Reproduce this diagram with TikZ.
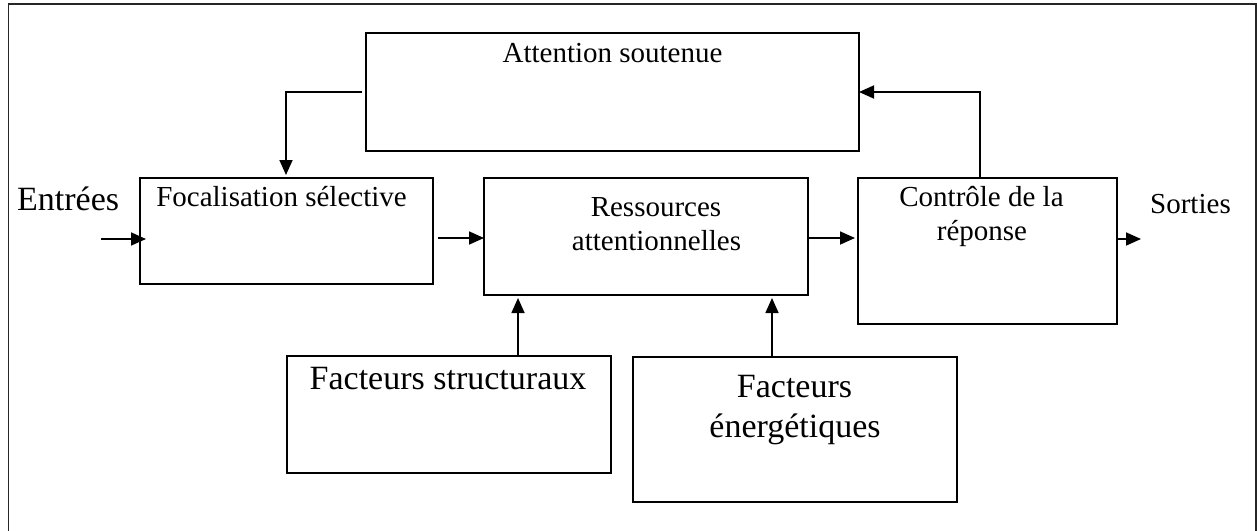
\documentclass[tikz,border=0pt]{standalone}
\usepackage{fontspec}
\setmainfont{Liberation Serif}
\usetikzlibrary{arrows.meta}
\begin{document}
\begin{tikzpicture}[x=1pt,y=-1pt,
  box/.style={draw, line width=1.7pt, inner sep=0pt, outer sep=0pt, anchor=north west},
  txt/.style={inner sep=0pt, anchor=base, font=\fontsize{29}{34}\selectfont},
  big/.style={inner sep=0pt, anchor=base, font=\fontsize{34}{40}\selectfont},
  arr/.style={line width=1.7pt, -{Triangle[length=15pt,width=13pt]}},
  frame/.style={line width=1.6pt, black!85}]
\useasboundingbox (0,0) rectangle (1257,530);

% outer frame
\draw[frame] (8.5,531) -- (8.5,4) -- (1256,4) -- (1256,531);

% blocks
\node[box, minimum width=493pt, minimum height=118pt] (att) at (366,33) {};
\node[box, minimum width=293pt, minimum height=106pt] (foc) at (140,178) {};
\node[box, minimum width=324pt, minimum height=117pt] (res) at (484,178) {};
\node[box, minimum width=259pt, minimum height=146pt] (con) at (858,178) {};
\node[box, minimum width=324pt, minimum height=117pt] (fst) at (287,356) {};
\node[box, minimum width=324pt, minimum height=145pt] (fen) at (633,357) {};

% block titles
\node[txt] (attT) at (612.5,62) {Attention soutenue};
\node[txt] (focT) at (281.5,206) {Focalisation sélective};
\node[txt] (resT1) at (656,216) {Ressources};
\node[txt] (resT2) at (656.5,250) {attentionnelles};
\node[txt] (conT1) at (981.5,206) {Contrôle de la};
\node[txt] (conT2) at (982,240) {réponse};
\node[big] (fstT) at (448,389) {Facteurs structuraux};
\node[big] (fenT1) at (794.5,397) {Facteurs};
\node[big] (fenT2) at (795,437) {énergétiques};

% inputs and outputs
\node[big, anchor=base west] (inT) at (17,210) {Entrées};
\node[txt, anchor=base west] (outT) at (1150,213) {Sorties};
\coordinate (in) at (101,239);
\coordinate (out) at (1141,239);

% helper coordinates for connector rows and columns
\coordinate (row) at (0,238);
\coordinate (colL) at (286,0);
\coordinate (colR) at (980,0);
\coordinate (up1) at (518,0);
\coordinate (up2) at (772,0);

% connectors
\draw[arr, shorten >=-6pt] (in) -- (in -| foc.west);
\draw[arr, shorten <=5pt] (foc.east |- row) -- (res.west |- row);
\draw[arr, shorten >=3pt] (res.east |- row) -- (con.west |- row);
\draw[arr] (con.east |- out) -- (out);
\draw[arr, shorten <=4pt, shorten >=3pt] (att.west) -| (foc.north -| colL);
\draw[arr] (con.north -| colR) |- (att.east);
\draw[arr, shorten >=3pt] (fst.north -| up1) -- (res.south -| up1);
\draw[arr, shorten >=3pt] (fen.north -| up2) -- (res.south -| up2);
\end{tikzpicture}
\end{document}
